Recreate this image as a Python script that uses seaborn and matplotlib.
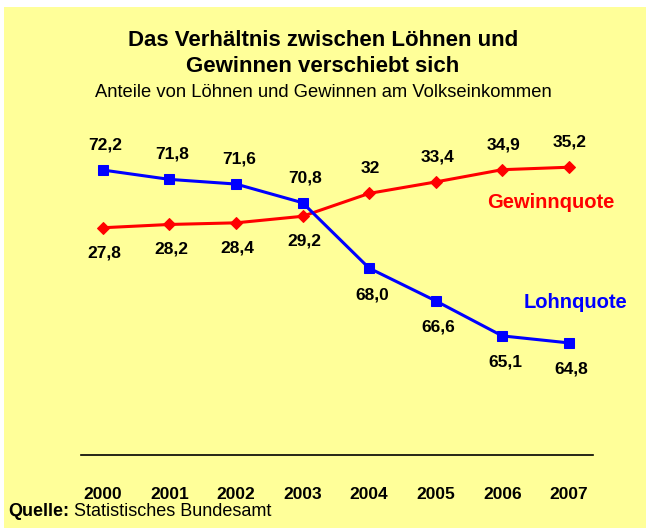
import matplotlib
matplotlib.use("Agg")
import matplotlib.pyplot as plt
import seaborn as sns
import pandas as pd
from matplotlib.patches import Rectangle

# Daten
jahre = ["2000", "2001", "2002", "2003", "2004", "2005", "2006", "2007"]
lohnquote = [72.2, 71.8, 71.6, 70.8, 68.0, 66.6, 65.1, 64.8]
gewinnquote = [27.8, 28.2, 28.4, 29.2, 32.0, 33.4, 34.9, 35.2]

df = pd.DataFrame({"idx": range(len(jahre)), "jahr": jahre,
                   "lohn": lohnquote, "gewinn": gewinnquote})

sns.set_style("white")
plt.rcParams["font.family"] = ["Liberation Sans", "DejaVu Sans"]
plt.rcParams["text.color"] = "black"

BG = "#FFFF99"
BLAU = "#0000FF"
ROT = "#FF0000"

fig = plt.figure(figsize=(6.46, 5.28), dpi=100)
fig.patch.set_facecolor("white")
fig.add_artist(Rectangle((4 / 646, 0), 1, 1 - 7 / 528, transform=fig.transFigure,
                         facecolor=BG, edgecolor="none", zorder=-10))

ax = fig.add_axes([81 / 646, 73 / 528, (592.7 - 81) / 646, 327 / 528])
ax2 = ax.twinx()
for a in (ax, ax2):
    a.set_facecolor("none")
    for s in a.spines.values():
        s.set_visible(False)
ax.spines["bottom"].set_visible(True)
ax.spines["bottom"].set_color("black")
ax.spines["bottom"].set_linewidth(1.2)

# Gewinnquote (linke Achse), Lohnquote (rechte Achse)
sns.lineplot(data=df, x="idx", y="gewinn", ax=ax, color=ROT, linewidth=2.2,
             marker="D", markersize=6, markeredgecolor=ROT)
sns.lineplot(data=df, x="idx", y="lohn", ax=ax2, color=BLAU, linewidth=2.2,
             marker="s", markersize=7, markeredgecolor=BLAU)

ax.set_ylim(0, 40)
ax2.set_ylim(60, 74)
ax.set_xlim(-0.33, 7.36)
ax.set_xticks(df["idx"])
ax.set_xticklabels(jahre, fontsize=12.5, fontweight="bold")
ax.tick_params(axis="x", length=0, pad=23, labelcolor="black")
ax.set_yticks([])
ax2.set_yticks([])
for a in (ax, ax2):
    a.set_xlabel("")
    a.set_ylabel("")

# Datenbeschriftungen: die obere Linie oben, die untere unten
for i in range(len(jahre)):
    yb = ax2.transData.transform((i, lohnquote[i]))[1]
    yr = ax.transData.transform((i, gewinnquote[i]))[1]
    blau_oben = yb > yr
    txt_b = f"{lohnquote[i]:.1f}".replace(".", ",")
    txt_r = f"{gewinnquote[i]:g}".replace(".", ",")
    ax2.annotate(txt_b, (i, lohnquote[i]), xytext=(2, 18 if blau_oben else -19),
                 textcoords="offset points", ha="center", va="center",
                 fontsize=12.5, fontweight="bold", color="black")
    ax.annotate(txt_r, (i, gewinnquote[i]), xytext=(1, -18 if blau_oben else 18),
                textcoords="offset points", ha="center", va="center",
                fontsize=12.5, fontweight="bold", color="black")

ax.text(6.73, 30.9, "Gewinnquote", color=ROT, fontsize=14.5, fontweight="bold",
        ha="center", va="center")
ax2.text(7.10, 66.55, "Lohnquote", color=BLAU, fontsize=14.5, fontweight="bold",
         ha="center", va="center")

# Titel
fig.text(0.5, 1 - 40 / 528, "Das Verhältnis zwischen Löhnen und", ha="center",
         va="center", fontsize=16, fontweight="bold")
fig.text(0.5, 1 - 67 / 528, "Gewinnen verschiebt sich", ha="center",
         va="center", fontsize=16, fontweight="bold")
fig.text(0.5, 1 - 92 / 528, "Anteile von Löhnen und Gewinnen am Volkseinkommen",
         ha="center", va="center", fontsize=13.2)

# Quelle
q = fig.text(8 / 646, 1 - 512 / 528, "Quelle:", ha="left", va="center",
             fontsize=13, fontweight="bold")
ax.annotate(" Statistisches Bundesamt", xy=(1, 0), xycoords=q, ha="left",
            va="bottom", fontsize=13, annotation_clip=False)

fig.savefig("out.png", dpi=100, facecolor=fig.get_facecolor())
